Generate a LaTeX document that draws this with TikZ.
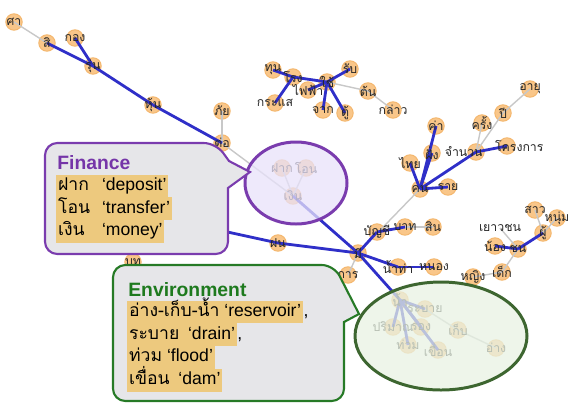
\documentclass[tikz,border=0pt]{standalone}
\usepackage{fontspec}
\setmainfont{Liberation Sans}
\newfontfamily\thaifont[Script=Thai]{Loma}
\newcommand{\tw}[1]{{\thaifont #1}}
\usetikzlibrary{backgrounds}

\definecolor{linkblue}{HTML}{2F2FC8}
\definecolor{linkgray}{HTML}{C8C8C8}
\definecolor{wordfill}{HTML}{F9C689}
\definecolor{wordedge}{HTML}{F4B870}
\definecolor{finpurple}{HTML}{7A3CAE}
\definecolor{fintext}{HTML}{7535A8}
\definecolor{finfill}{HTML}{E8E2FA}
\definecolor{envgreen}{HTML}{267A26}
\definecolor{envtext}{HTML}{1E7A1E}
\definecolor{envring}{HTML}{3D6630}
\definecolor{envfill}{HTML}{E8F2E3}
\definecolor{boxfill}{HTML}{E6E6E9}
\definecolor{hlfill}{HTML}{EDC97E}

\tikzset{
  wtext/.style={font=\thaifont\fontsize{7}{8}\selectfont, text=black!85, inner sep=0pt},
  wd/.style={coordinate, label={[wtext]center:#1}},
  wdl/.style={coordinate, label={[wtext, xshift=-7pt]center:#1}},
  wdr/.style={coordinate, label={[wtext, xshift=7pt]center:#1}},
  blue link/.style={draw=linkblue, line width=1.6pt},
  gray link/.style={draw=linkgray, line width=0.8pt},
  callout/.style={line width=1.2pt, fill=boxfill},
  title/.style={font=\bfseries\fontsize{11}{13}\selectfont, anchor=west, inner sep=0pt},
  hl/.style={fill=hlfill, anchor=west, inner xsep=1pt, inner ysep=0pt,
    text height=9pt, text depth=3.9pt, font=\fontsize{10}{12}\selectfont},
  comma/.style={anchor=base west, inner sep=0pt, font=\fontsize{10}{12}\selectfont},
}

\begin{document}
\begin{tikzpicture}[x=0.02cm, y=-0.02cm]
\useasboundingbox (0,0) rectangle (570,406);

% words
\node[wd=ศา] (sa) at (14,22) {};
\node[wd=สิ] (si) at (47,43) {};
\node[wd=กอง] (kong) at (75,38) {};
\node[wd=รุ่น] (run) at (93,66) {};
\node[wd=หุ้น] (hun) at (153,105) {};
\node[wd=ภัย] (phai) at (222,111) {};
\node[wd=ต่อ] (tor) at (222,143) {};
\node[wd=บท] (bot) at (133,262) {};
\coordinate (fonsrc) at (200,226);

\node[wd=ทุน] (thun) at (273,70) {};
\node[wd=โรง] (rong) at (293,77) {};
\node[wd=ไฟฟ้า] (faifa) at (308,90) {};
\node[wd=กระแส] (krasae) at (275,103) {};
\node[wd=ใช้] (chai) at (327,82) {};
\node[wd=รับ] (rap) at (350,69) {};
\node[wd=ต้น] (ton) at (368,91) {};
\node[wd=จาก] (chak) at (323,110) {};
\node[wd=ตู้] (tu) at (345,113) {};
\node[wd=กล่าว] (klao) at (393,110) {};

\node[wd=ฝาก] (fak) at (282,168) {};
\node[wd=โอน] (oon) at (306,168) {};
\node[wd=เงิน] (ngoen) at (293,196) {};

\node[wd=ฝน] (fon) at (278,243) {};
\node[wd=มี] (mi) at (358,253) {};
\node[wd=บัญชี] (banchi) at (377,232) {};
\node[wd=บาท] (baht) at (405,227) {};
\node[wd=สิน] (sin) at (433,227) {};
\node[wd=น้ำท่า] (namtha) at (398,267) {};
\node[wd=หนอง] (nong) at (434,267) {};
\node[wd=การ] (kan) at (348,275) {};
\node[wd=คน] (khon) at (420,189) {};
\node[wd=ไทย] (thai) at (410,163) {};
\node[wd=ฝั่ง] (fang) at (432,153) {};
\node[wd=ค่า] (kha) at (436,126) {};
\node[wdl=จำนวน] (chamnuan) at (476,152) {};
\node[wd=ราย] (rai) at (448,187) {};
\node[wd=ครั้ง] (khrang) at (482,123) {};
\node[wd=ปี] (pi) at (503,113) {};
\node[wd=อายุ] (ayu) at (530,89) {};
\node[wdr=โครงการ] (khrongkan) at (507,146) {};

\node[wd=สาว] (sao) at (535,210) {};
\node[wd=หนุ่ม] (num) at (557,218) {};
\node[wd=ผู้] (phu) at (543,233) {};
\node[wd=ชน] (chon) at (518,249) {};
\node[wd=เยาวชน] (yaowa) at (500,228) {};
\node[wd=น้อง] (nongtwo) at (495,246) {};
\node[wd=เด็ก] (dek) at (502,272) {};
\node[wd=หญิง] (ying) at (473,277) {};

\node[wd=น้ำ] (nam) at (400,300) {};
\node[wd=ระบาย] (rabai) at (425,309) {};
\node[wd=ปริมาณ] (priman) at (393,327) {};
\node[wd=รอง] (rongtwo) at (421,327) {};
\node[wd=ท่วม] (thuam) at (408,345) {};
\node[wd=เขื่อน] (khuean) at (438,350) {};
\node[wd=เก็บ] (kep) at (458,330) {};
\node[wd=อ่าง] (ang) at (496,348) {};

\begin{scope}[on background layer]
 \foreach \w in {sa,si,kong,run,hun,phai,tor,bot,thun,rong,faifa,krasae,chai,rap,ton,chak,tu,klao,
   fak,oon,ngoen,fon,mi,banchi,baht,sin,namtha,nong,kan,khon,thai,fang,kha,chamnuan,rai,khrang,pi,ayu,
   khrongkan,sao,num,phu,chon,nongtwo,dek,ying,nam,rabai,priman,rongtwo,thuam,khuean,kep,ang}
   \fill[wordfill, draw=wordedge, line width=0.6pt] (\w) circle (8.2);

 \draw[gray link] (sa) -- (si);
 \draw[gray link] (phai) -- (tor);
 \draw[gray link] (tor) -- (ngoen);
 \draw[gray link] (fak) -- (ngoen);
 \draw[gray link] (oon) -- (ngoen);
 \draw[gray link] (baht) -- (sin);
 \draw[gray link] (mi) -- (kan);
 \draw[gray link] (mi) -- (khon);
 \draw[gray link] (chamnuan) -- (khrang);
 \draw[gray link] (chamnuan) -- (pi);
 \draw[gray link] (pi) -- (ayu);
 \draw[gray link] (chai) -- (ton);
 \draw[gray link] (ton) -- (klao);
 \draw[gray link] (sao) -- (phu);
 \draw[gray link] (num) -- (phu);
 \draw[gray link] (yaowa) -- (chon);
 \draw[gray link] (chon) -- (dek);
 \draw[gray link] (dek) -- (ying);
 \draw[gray link] (rabai) -- (kep);
 \draw[gray link] (kep) -- (ang);

 \draw[blue link] (si) -- (run);
 \draw[blue link] (kong) -- (run);
 \draw[blue link] (run) -- (hun);
 \draw[blue link] (hun) -- (tor);
 \draw[blue link] (thun) -- (rong);
 \draw[blue link] (rong) -- (chai);
 \draw[blue link] (rong) -- (krasae);
 \draw[blue link] (faifa) -- (chai);
 \draw[blue link] (chai) -- (rap);
 \draw[blue link] (chai) -- (chak);
 \draw[blue link] (chai) -- (tu);
 \draw[blue link] (fonsrc) -- (fon);
 \draw[blue link] (fon) -- (mi);
 \draw[blue link] (ngoen) -- (mi);
 \draw[blue link] (mi) -- (banchi);
 \draw[blue link] (banchi) -- (baht);
 \draw[blue link] (mi) -- (namtha);
 \draw[blue link] (namtha) -- (nong);
 \draw[blue link] (mi) -- (nam);
 \draw[blue link] (nam) -- (rabai);
 \draw[blue link] (nam) -- (priman);
 \draw[blue link] (nam) -- (rongtwo);
 \draw[blue link] (nam) -- (thuam);
 \draw[blue link] (nam) -- (khuean);
 \draw[blue link] (khon) -- (thai);
 \draw[blue link] (khon) -- (fang);
 \draw[blue link] (khon) -- (kha);
 \draw[blue link] (khon) -- (chamnuan);
 \draw[blue link] (khon) -- (rai);
 \draw[blue link] (chamnuan) -- (khrongkan);
 \draw[blue link] (phu) -- (chon);
 \draw[blue link] (nongtwo) -- (chon);
\end{scope}

% groups
\draw[finpurple, line width=1.7pt, fill=finfill, fill opacity=0.75] (296,183) ellipse [x radius=51, y radius=41];
\draw[envring, line width=1.7pt, fill=envfill, fill opacity=0.75] (441,336) ellipse [x radius=86, y radius=54];

% callouts
\draw[callout, draw=finpurple] (45,200) [rounded corners=7pt] -- (45,143) -- (216,143)
  [sharp corners] -- (229,161) -- (250,172) -- (228,188) [rounded corners=7pt] -- (228,254) -- (45,254) -- cycle;
\draw[callout, draw=envgreen] (113,330) [rounded corners=7pt] -- (113,265) -- (334,265)
  [sharp corners] -- (359,314) -- (344,322) [rounded corners=7pt] -- (344,401) -- (113,401) -- cycle;

\node[title, text=fintext] (fintitle) at (57,163) {Finance};
\node[hl] (fin1) at (56,186) {\makebox[25pt][l]{\tw{ฝาก}}‘deposit’};
\node[hl] (fin2) at (56,208.75) {\makebox[25pt][l]{\tw{โอน}}‘transfer’};
\node[hl] (fin3) at (56,231.5) {\makebox[25pt][l]{\tw{เงิน}}‘money’};

\node[title, text=envtext] (envtitle) at (128,290) {Environment};
\node[hl] (env1) at (127,312) {\tw{อ่าง-เก็บ-น้ำ} ‘reservoir’};
\node[comma] (envc1) at (env1.base east) {,};
\node[hl] (env2) at (127,334.75) {\tw{ระบาย}\enspace‘drain’};
\node[comma] (envc2) at (env2.base east) {,};
\node[hl] (env3) at (127,357.5) {\tw{ท่วม} ‘flood’};
\node[hl] (env4) at (127,380.25) {\tw{เขื่อน}\enspace‘dam’};

\end{tikzpicture}
\end{document}
